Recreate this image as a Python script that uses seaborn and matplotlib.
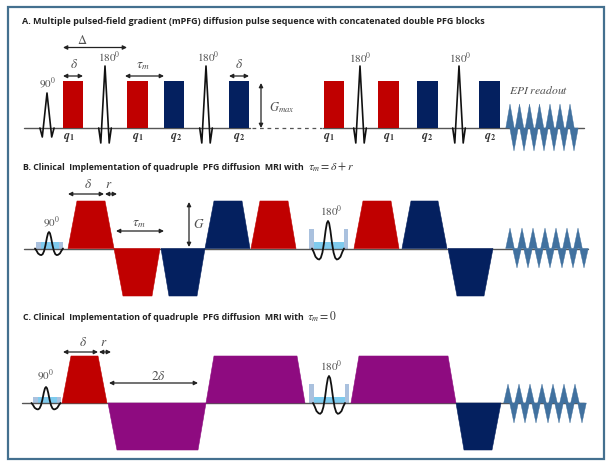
import seaborn as sns
import matplotlib.pyplot as plt
from matplotlib.patches import Rectangle

# titulos de los paneles
title_a = 'A. Multiple pulsed-field gradient (mPFG) diffusion pulse sequence with concatenated double PFG blocks'
title_b = 'B. Clinical  Implementation of quadruple  PFG diffusion  MRI with'
title_c = 'C. Clinical  Implementation of quadruple  PFG diffusion  MRI with'
math_b = r'$\tau_m = \delta + r$'
math_c = r'$\tau_m = 0$'

# panel A: bloques rectangulares (inicio, fin, color)
a_start = [63, 127, 164, 229, 324, 378, 417, 479]
a_end = [83, 148, 184, 249, 344, 399, 438, 500]
a_kind = ['r', 'r', 'b', 'b', 'r', 'r', 'b', 'b']
a_q = ['1', '1', '2', '2', '1', '1', '2', '2']
a_q_x = [69, 138, 176, 239, 329, 389, 427, 490]
a_rf90_x = [47]
a_rf180_x = [105, 206, 360, 459]

# panel B: trapecios (base izq, techo izq, techo der, base der, signo, color)
b_x0 = [68, 114, 161, 205, 251, 354, 402, 448]
b_x1 = [77, 123, 169, 214, 260, 363, 411, 457]
b_x2 = [105, 152, 197, 242, 288, 391, 438, 484]
b_x3 = [114, 160, 205, 250, 296, 399, 447, 493]
b_sign = [1, -1, -1, 1, 1, 1, 1, -1]
b_kind = ['r', 'r', 'b', 'b', 'r', 'r', 'b', 'b']

# panel C: trapecios
c_x0 = [62, 108, 206, 351, 456]
c_x1 = [71, 117, 214, 359, 464]
c_x2 = [98, 198, 297, 448, 492]
c_x3 = [107, 206, 305, 456, 501]
c_sign = [1, -1, 1, 1, -1]
c_kind = ['r', 'p', 'p', 'p', 'b']

# lectura EPI: picos hacia arriba y hacia abajo
a_epi_up = [510, 519.5, 529.5, 539.5, 550, 560, 570]
a_epi_down = [514, 524, 534, 544, 554, 564, 574]
b_epi_up = [510, 522, 533, 545, 556, 567, 578]
b_epi_down = [517, 528, 539, 550, 562, 573, 584]
c_epi_up = [508, 519, 530, 542, 553, 564, 575]
c_epi_down = [514, 525, 536, 548, 559, 570, 582]

# forma de los pulsos de RF
sharp_dx = [-1.5, -1, 0, 1, 1.5]
sharp_h = [0, -1, 1, -1, 0]
wave_dx = [-1, -0.9, -0.78, -0.65, -0.55, -0.45, -0.35, -0.25, -0.15, -0.07, 0,
           0.07, 0.15, 0.25, 0.35, 0.45, 0.55, 0.65, 0.78, 0.9, 1]
wave_h = [0, -0.12, -0.3, -0.38, -0.4, -0.34, -0.15, 0.2, 0.65, 0.92, 1,
          0.92, 0.65, 0.2, -0.15, -0.34, -0.4, -0.38, -0.3, -0.12, 0]

colors = {'r': '#c00000', 'b': '#04205f', 'p': '#8e0b80'}
epi_color = '#41719f'
text_gray = '#505050'

sns.set_theme(style='white')
plt.rcParams['font.family'] = ['Open Sans', 'DejaVu Sans']
plt.rcParams['mathtext.fontset'] = 'stix'

fig = plt.figure(figsize=(6.12, 4.67), dpi=100)
ax = fig.add_axes([0, 0, 1, 1])
ax.set_xlim(0, 612)
ax.set_ylim(467, 0)
ax.axis('off')


def linea(xs, ys, color='#555555', lw=1.0, ls='-'):
    sns.lineplot(x=xs, y=ys, sort=False, estimator=None, color=color,
                 linewidth=lw, linestyle=ls, legend=False, ax=ax)


def flecha(x0, y0, x1, y1):
    ax.annotate('', xy=(x1, y1), xytext=(x0, y0),
                arrowprops=dict(arrowstyle='<|-|>', color='#222222', lw=0.9,
                                mutation_scale=6, shrinkA=0, shrinkB=0))


def etiqueta(x, y, s, size=8, color=text_gray):
    ax.text(x, y, s, fontsize=size, color=color, ha='center', va='center')


def trapecios(x0, x1, x2, x3, sign, kind, base, height):
    for i in range(len(x0)):
        tip = base - sign[i] * height
        ax.fill([x0[i], x1[i], x2[i], x3[i]], [base, tip, tip, base],
                color=colors[kind[i]], lw=0.4, zorder=3)


def epi(up, down, base, top, bottom, half):
    for x in up:
        ax.fill([x - half, x, x + half], [base, top, base], color=epi_color, lw=0.3, zorder=3)
    for x in down:
        ax.fill([x - half, x, x + half], [base, bottom, base], color=epi_color, lw=0.3, zorder=3)


def rf_sharp(x, base, height, dip, width):
    xs = [x + d * width for d in sharp_dx]
    ys = [base - (h * height if h > 0 else h * dip) for h in sharp_h]
    linea(xs, ys, color='#111111', lw=1.2)


def rf_wave(x, base, height, half):
    xs = [x + d * half for d in wave_dx]
    ys = [base - h * height for h in wave_h]
    linea(xs, ys, color='#111111', lw=1.3)


def caja_refoc(left, right, base, top, fill_top):
    ax.fill([left + 4, right - 4, right - 4, left + 4], [base, base, fill_top, fill_top],
            color='#7fcbee', lw=0, zorder=1)
    ax.add_patch(Rectangle((left, top), 4.5, base - top, color='#aac1de', lw=0, zorder=1))
    ax.add_patch(Rectangle((right - 4.5, top), 4.5, base - top, color='#aac1de', lw=0, zorder=1))


# marco exterior
ax.add_patch(Rectangle((8, 7), 596, 452, fill=False, edgecolor='#44708f', lw=1.6))

# --- Panel A ---
ax.text(22, 22, title_a, fontsize=6.5, fontweight='bold', color='#222222', va='center')
base_a = 128
linea([24, 250], [base_a, base_a])
linea([252, 322], [base_a, base_a], ls=(0, (3, 3)), lw=0.9)
linea([323, 584], [base_a, base_a])
for s, e, k in zip(a_start, a_end, a_kind):
    ax.add_patch(Rectangle((s, 81), e - s, base_a - 81, color=colors[k], lw=0, zorder=3))
for x in a_rf90_x:
    rf_sharp(x, base_a, 35, 9, 4.7)
for x in a_rf180_x:
    rf_sharp(x, base_a, 62, 15, 4.2)
for x, q in zip(a_q_x, a_q):
    etiqueta(x, 138, rf'$\mathbfit{{q}}_{{\mathbf{{{q}}}}}$', size=8.5, color='#333333')
epi(a_epi_up, a_epi_down, base_a, 104, 151, 4.2)

flecha(63, 47.5, 127, 47.5)
flecha(63, 76, 83, 76)
flecha(125, 76, 164, 76)
flecha(229, 76, 249, 76)
flecha(261, 83, 261, 128)
etiqueta(82, 40, r'$\Delta$', size=9)
etiqueta(74, 65, r'$\delta$', size=9.5)
etiqueta(143, 66, r'$\tau_m$', size=9.5)
etiqueta(239, 65, r'$\delta$', size=9.5)
etiqueta(282, 108, r'$G_{max}$', size=9)
etiqueta(47, 83, r'$90^0$')
etiqueta(109, 57, r'$180^0$')
etiqueta(208, 57, r'$180^0$')
etiqueta(360, 58, r'$180^0$')
etiqueta(460, 58, r'$180^0$')
etiqueta(539, 90, r'$EPI\ readout$', size=8.4)

# --- Panel B ---
ax.text(23, 167, title_b, fontsize=6.35, fontweight='bold', color='#222222', va='center')
ax.text(308, 167, math_b, fontsize=8.5, color='#333333', va='center')
base_b = 248.5
linea([24, 588], [base_b, base_b])
caja_refoc(36, 63, base_b, base_b - 6.5, base_b - 6.5)
caja_refoc(309, 348, base_b, 229, 242)
trapecios(b_x0, b_x1, b_x2, b_x3, b_sign, b_kind, base_b, 47.5)
rf_wave(49, base_b, 16.5, 14)
rf_wave(328, base_b, 27.5, 16)
epi(b_epi_up, b_epi_down, base_b, 228, 268, 4.3)

flecha(68, 194, 104, 194)
flecha(105, 194, 117, 194)
flecha(116, 231, 164, 231)
flecha(189, 202, 189, 247)
etiqueta(88, 185, r'$\delta$', size=9.5)
etiqueta(109, 184, r'$r$', size=9.5)
etiqueta(139, 223, r'$\tau_m$', size=9.5)
etiqueta(199, 225, r'$G$', size=9.5)
etiqueta(51, 222, r'$90^0$')
etiqueta(331, 211, r'$180^0$')

# --- Panel C ---
ax.text(23, 317, title_c, fontsize=6.35, fontweight='bold', color='#222222', va='center')
ax.text(307, 317, math_c, fontsize=8.5, color='#333333', va='center')
base_c = 403
linea([22, 584], [base_c, base_c])
caja_refoc(33, 61, base_c, base_c - 6, base_c - 6)
caja_refoc(309, 349, base_c, 384, 397)
trapecios(c_x0, c_x1, c_x2, c_x3, c_sign, c_kind, base_c, 47)
rf_wave(46, base_c, 16, 14.5)
rf_wave(329, base_c, 27, 16)
epi(c_epi_up, c_epi_down, base_c, 384, 423, 4.3)

flecha(63, 352, 98, 352)
flecha(99, 352, 111, 352)
flecha(109, 383, 198, 383)
etiqueta(83, 343, r'$\delta$', size=9.5)
etiqueta(104, 342, r'$r$', size=9.5)
etiqueta(158, 376, r'$2\delta$', size=9.5)
etiqueta(45, 375, r'$90^0$')
etiqueta(331, 366, r'$180^0$')

plt.savefig('out.png', dpi=100)
